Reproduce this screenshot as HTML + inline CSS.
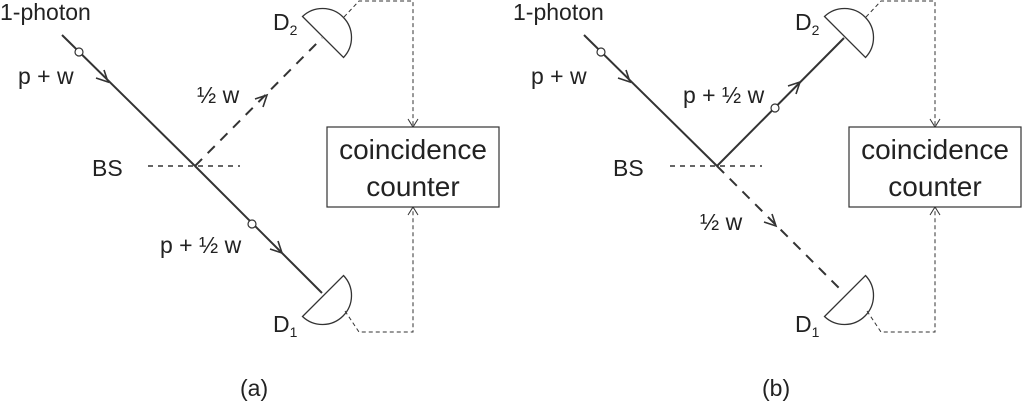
<!DOCTYPE html>
<html><head><style>body{margin:0;background:#fff}svg{display:block}text{font-family:"Liberation Sans",sans-serif;fill:#222}</style></head><body>
<svg width="1024" height="411" viewBox="0 0 1024 411" xmlns="http://www.w3.org/2000/svg">
<defs>
<g id="common" stroke="#333" fill="none">
  <line x1="148" y1="166" x2="240" y2="166" stroke-width="1.6" stroke-dasharray="5,5"/>
  <path d="M302.5,16.5 A29,29 0 0 1 343.5,57.5 Z" stroke-width="1.3" fill="#fff"/>
  <path d="M343.5,275.5 A29,29 0 0 1 302.5,316.5 Z" stroke-width="1.3" fill="#fff"/>
  <path d="M344,17 L359,1 L413,1 L413,126" stroke-width="1" stroke-dasharray="4,3"/>
  <path d="M408,119 L413,127 L418,119" stroke-width="1"/>
  <path d="M345,311 L359,332 L413,332 L413,208" stroke-width="1" stroke-dasharray="4,3"/>
  <path d="M408,215 L413,207 L418,215" stroke-width="1"/>
  <rect x="327" y="127" width="172" height="80" stroke-width="1.2" fill="#fff"/>
  <line x1="62" y1="35" x2="195" y2="166" stroke-width="2"/>
  <circle cx="79" cy="52" r="4" fill="#fff" stroke-width="1.2"/>
  <path d="M96,78 L108,82 L104,70" stroke-width="1.6"/>
</g>
</defs>
<use href="#common"/>
<use href="#common" transform="translate(522,0)"/>
<g stroke="#333" fill="none">
  <line x1="195" y1="166" x2="322" y2="293" stroke-width="2"/>
  <circle cx="252" cy="224" r="4" fill="#fff" stroke-width="1.2"/>
  <path d="M270,249 L282,253 L278,241" stroke-width="1.6"/>
  <line x1="195" y1="166" x2="322" y2="38" stroke-width="2" stroke-dasharray="10,8"/>
  <path d="M255,99 L267,95 L263,107" stroke-width="1.6"/>
  <line x1="717" y1="166" x2="844" y2="38" stroke-width="2"/>
  <circle cx="775" cy="108" r="4" fill="#fff" stroke-width="1.2"/>
  <path d="M788,86 L800,82 L796,94" stroke-width="1.6"/>
  <line x1="717" y1="166" x2="844" y2="293" stroke-width="2" stroke-dasharray="10,8"/>
  <path d="M764,222 L776,226 L772,214" stroke-width="1.6"/>
</g>
<g font-size="23">
  <text x="0" y="20">1-photon</text>
  <text x="18" y="84">p + w</text>
  <text x="197" y="103">½ w</text>
  <text x="92" y="176">BS</text>
  <text x="160" y="253">p + ½ w</text>
  <text x="273" y="30">D<tspan font-size="14" dy="5">2</tspan></text>
  <text x="273" y="332">D<tspan font-size="14" dy="5">1</tspan></text>
  <text x="240" y="396">(a)</text>
  <text x="513" y="20">1-photon</text>
  <text x="531" y="84">p + w</text>
  <text x="683" y="103">p + ½ w</text>
  <text x="613" y="176">BS</text>
  <text x="700" y="230">½ w</text>
  <text x="795" y="30">D<tspan font-size="14" dy="5">2</tspan></text>
  <text x="795" y="332">D<tspan font-size="14" dy="5">1</tspan></text>
  <text x="762" y="396">(b)</text>
</g>
<g font-size="28" text-anchor="middle">
  <text x="413" y="159">coincidence</text>
  <text x="413" y="196">counter</text>
  <text x="935" y="159">coincidence</text>
  <text x="935" y="196">counter</text>
</g>
</svg>
</body></html>
